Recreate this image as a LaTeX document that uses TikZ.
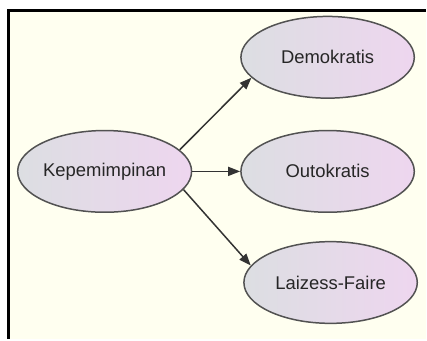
\documentclass[tikz,border=0pt]{standalone}
\usepackage{fontspec}
\setmainfont{Liberation Sans}
\usetikzlibrary{arrows.meta, positioning, shapes.geometric}
\definecolor{paper}{HTML}{FFFFF0}
\definecolor{nodeleft}{HTML}{DCDEE2}
\definecolor{noderight}{HTML}{EED6EF}
\definecolor{edgegray}{HTML}{333333}

\begin{document}
\begin{tikzpicture}[
        x=1pt, y=1pt,
        item/.style = {ellipse, draw=edgegray!85, line width=1.5pt, minimum width=174pt, minimum height=82pt, inner sep=0pt, left color=nodeleft, right color=noderight, text=black!85},
        line/.style = {-{Triangle[length=12pt, width=9pt]}, line width=1.5pt, edgegray},
        font = \fontsize{18.5}{22}\selectfont,
    ]
        % latar dan bingkai
        \fill[white] (0,0) rectangle (427,340);
        \fill[paper] (9,0) rectangle (427,329);
        \draw[line width=3pt, black] (9,0) -- (9,329) -- (427,329);

        \node[item] (kep) at (105,168) {Kepemimpinan};
        \node[item, right=48pt of kep] (outo) {Outokratis};
        \node[item, above=31pt of outo] (demo) {Demokratis};
        \node[item, below=28pt of outo, xshift=3pt] (laiz) {Laizess-Faire};

        \draw [line] (kep.16) -- (demo.195);
        \draw [line] (kep) -- (outo);
        \draw [line] (kep.-13) -- (laiz.168);
    \end{tikzpicture}
\end{document}
